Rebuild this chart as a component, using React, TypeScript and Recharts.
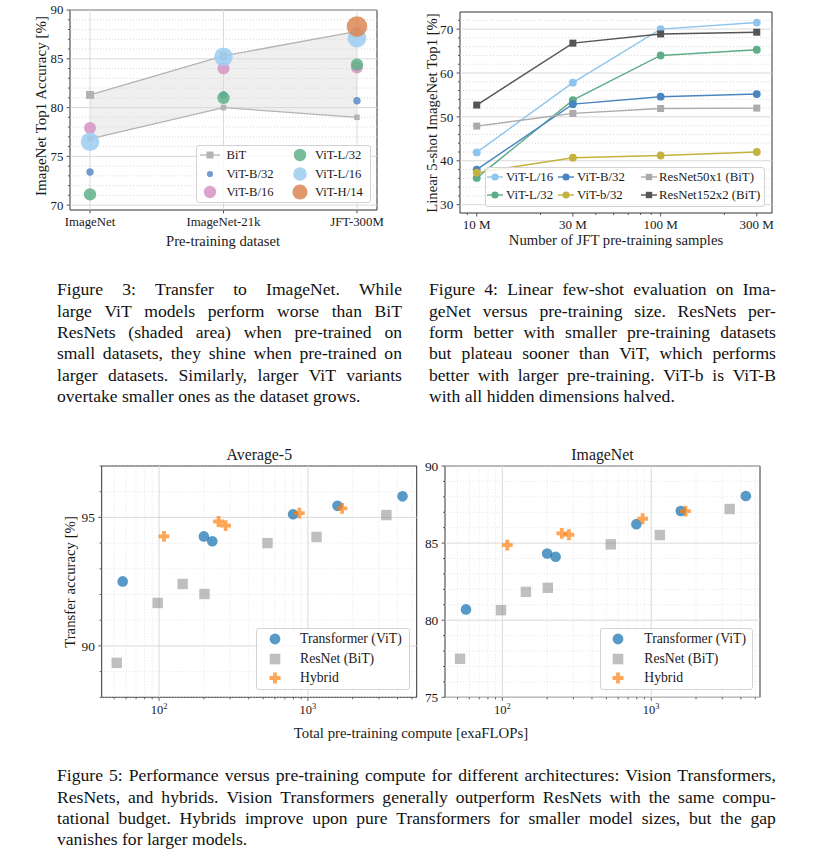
import React from 'react';
import {
  ComposedChart,
  LineChart,
  ScatterChart,
  Line,
  Area,
  Scatter,
  XAxis,
  YAxis,
  ReferenceLine,
  ReferenceArea,
} from 'recharts';

const FONT = '"Liberation Serif", "Times New Roman", Times, serif';
const AXIS = '#333333';
const TEXT = '#1a1a1a';
const GRID = '#d9d9d9';
const MINOR = '#cfcfcf';

// ---------------- Figure 3 data ----------------
const datasets = ['ImageNet', 'ImageNet-21k', 'JFT-300M'];
const bitHigh = [81.3, 85.3, 87.8];
const bitLow = [76.8, 80.0, 79.0];
const vitB32 = [73.4, 81.3, 80.7];
const vitB16 = [77.9, 84.0, 84.1];
const vitL32 = [71.1, 81.0, 84.4];
const vitL16 = [76.5, 85.2, 87.1];
const vitH14: (number | null)[] = [null, null, 88.3];
const fig3MajorY = [70, 75, 80, 85, 90];

// ---------------- Figure 4 data ----------------
const jftSamples = [9, 30, 90, 300];
const jftLabels = ['10 M', '30 M', '100 M', '300 M'];
const fsL16 = [41.9, 57.8, 70.0, 71.5];
const fsL32 = [36.1, 53.8, 64.0, 65.3];
const fsB32 = [38.0, 52.9, 54.6, 55.2];
const fsb32 = [37.3, 40.7, 41.2, 42.0];
const fsR50 = [47.9, 50.8, 51.9, 52.0];
const fsR152 = [52.7, 66.8, 68.9, 69.3];
const fig4MajorY = [30, 40, 50, 60, 70];
const fig4MinorX = [8, 20, 40, 50, 60, 70, 80, 200];

// ---------------- Figure 5 data ----------------
const vitCompute = [57, 200, 228, 795, 1580, 4320];
const vitAvg5 = [92.51, 94.26, 94.07, 95.12, 95.45, 95.82];
const vitImageNet = [80.7, 84.33, 84.11, 86.23, 87.08, 88.05];
const bitCompute = [52, 98, 144, 202, 535, 1143, 3365];
const bitAvg5 = [89.34, 91.67, 92.41, 92.02, 94.0, 94.24, 95.09];
const bitImageNet = [77.5, 80.65, 81.84, 82.1, 84.92, 85.52, 87.21];
const hybCompute = [108, 251, 280, 876, 1697];
const hybAvg5 = [94.26, 94.84, 94.68, 95.17, 95.35];
const hybImageNet = [84.87, 85.63, 85.54, 86.58, 87.08];
const computeMajor = [100, 1000];
const computeMinor = [50, 60, 70, 80, 90, 200, 300, 400, 500, 600, 700, 800, 900, 2000, 3000, 4000, 5000];
const avg5MajorY = [90, 95];
const inMajorY = [75, 80, 85, 90];

// ---------------- Captions ----------------
const cap3 = [
  'Figure 3:  Transfer to ImageNet.   While',
  'large ViT models perform worse than BiT',
  'ResNets (shaded area) when pre-trained on',
  'small datasets, they shine when pre-trained on',
  'larger datasets.  Similarly, larger ViT variants',
  'overtake smaller ones as the dataset grows.',
];
const cap4 = [
  'Figure 4: Linear few-shot evaluation on Ima-',
  'geNet versus pre-training size.  ResNets per-',
  'form better with smaller pre-training datasets',
  'but plateau sooner than ViT, which performs',
  'better with larger pre-training. ViT-b is ViT-B',
  'with all hidden dimensions halved.',
];
const cap5 = [
  'Figure 5: Performance versus pre-training compute for different architectures: Vision Transformers,',
  'ResNets, and hybrids.  Vision Transformers generally outperform ResNets with the same compu-',
  'tational budget.  Hybrids improve upon pure Transformers for smaller model sizes, but the gap',
  'vanishes for larger models.',
];

// ---------------- helpers ----------------
function steps(a: number, b: number, s: number): number[] {
  const out: number[] = [];
  for (let i = 0; a + i * s <= b + 1e-9; i++) out.push(Math.round((a + i * s) * 1000) / 1000);
  return out;
}
const isIn = (arr: number[], v: number) => arr.some((m) => Math.abs(m - Number(v)) < 1e-9);

type TickCfg = { major: number[]; fmt: (v: number) => React.ReactNode; fontSize: number; offset: number };

const xTick = (cfg: TickCfg) => (props: any) => {
  const { x, y, payload } = props;
  const v = Number(payload.value);
  const major = isIn(cfg.major, v);
  return (
    <g>
      <line x1={x} x2={x} y1={y} y2={y + (major ? 3.5 : 2)} stroke={AXIS} strokeWidth={0.8} />
      {major && (
        <text x={x} y={y + cfg.offset} textAnchor="middle" fontFamily={FONT} fontSize={cfg.fontSize} fill={TEXT}>
          {cfg.fmt(v)}
        </text>
      )}
    </g>
  );
};

const yTick = (cfg: TickCfg) => (props: any) => {
  const { x, y, payload } = props;
  const v = Number(payload.value);
  const major = isIn(cfg.major, v);
  return (
    <g>
      <line x1={x} x2={x - (major ? 3.5 : 2)} y1={y} y2={y} stroke={AXIS} strokeWidth={0.8} />
      {major && (
        <text x={x - cfg.offset} y={y} dy="0.35em" textAnchor="end" fontFamily={FONT} fontSize={cfg.fontSize} fill={TEXT}>
          {cfg.fmt(v)}
        </text>
      )}
    </g>
  );
};

const pow10 = (v: number) => (
  <>
    <tspan>10</tspan>
    <tspan dy={-5} fontSize={8.5}>
      {String(Math.round(Math.log10(v)))}
    </tspan>
  </>
);

const circleDot = (color: string, r: number, opacity = 0.85) => (p: any) => {
  if (p.cy == null || p.cx == null || Number.isNaN(p.cy) || p.value == null)
    return <g key={`n-${p.index}`} />;
  return <circle key={`c-${p.index}`} cx={p.cx} cy={p.cy} r={r} fill={color} fillOpacity={opacity} stroke="none" />;
};
const squareDot = (color: string, s: number, opacity = 1) => (p: any) => {
  if (p.cy == null || p.cx == null || Number.isNaN(p.cy)) return <g key={`n-${p.index}`} />;
  return (
    <rect key={`s-${p.index}`} x={p.cx - s / 2} y={p.cy - s / 2} width={s} height={s} fill={color} fillOpacity={opacity} stroke="none" />
  );
};

const plusPath = (cx: number, cy: number, a: number, t: number) =>
  `M${cx - t},${cy - a}H${cx + t}V${cy - t}H${cx + a}V${cy + t}H${cx + t}V${cy + a}H${cx - t}V${cy + t}H${cx - a}V${cy - t}H${cx - t}Z`;

const Txt = ({ x, y, size, rotate, children }: any) => (
  <div
    style={{
      position: 'absolute',
      left: x,
      top: y,
      transform: `translate(-50%,-50%)${rotate ? ' rotate(-90deg)' : ''}`,
      fontSize: size,
      whiteSpace: 'nowrap',
      lineHeight: 1,
      color: TEXT,
    }}
  >
    {children}
  </div>
);

type LegItem = { x: number; y: number; tx: number; label: string; swatch: React.ReactNode };
const LegendBox = ({ box, items, fontSize }: { box: { x: number; y: number; w: number; h: number }; items: LegItem[]; fontSize: number }) => (
  <>
    <div
      style={{
        position: 'absolute',
        left: box.x,
        top: box.y,
        width: box.w,
        height: box.h,
        background: 'rgba(255,255,255,0.8)',
        border: '1px solid #d3d3d3',
        borderRadius: 3,
        boxSizing: 'border-box',
      }}
    />
    {items.map((it) => (
      <React.Fragment key={it.label}>
        <svg style={{ position: 'absolute', left: it.x - 15, top: it.y - 12, overflow: 'visible' }} width={30} height={24}>
          {it.swatch}
        </svg>
        <div
          style={{
            position: 'absolute',
            left: it.tx,
            top: it.y,
            transform: 'translateY(-50%)',
            fontSize,
            whiteSpace: 'nowrap',
            lineHeight: 1,
            color: TEXT,
          }}
        >
          {it.label}
        </div>
      </React.Fragment>
    ))}
  </>
);

const Caption = ({ lines, x, y, width }: { lines: string[]; x: number; y: number; width: number }) => (
  <div style={{ position: 'absolute', left: x, top: y, width, fontSize: 17.6, lineHeight: '21.3px', color: '#111' }}>
    {lines.map((ln, i) =>
      i === lines.length - 1 ? (
        <div key={i} style={{ height: 21.3, whiteSpace: 'nowrap' }}>
          {ln}
        </div>
      ) : (
        <div key={i} style={{ display: 'flex', justifyContent: 'space-between', width, height: 21.3, whiteSpace: 'nowrap' }}>
          {ln.split(/\s+/).map((w, j) => (
            <span key={j}>{w}</span>
          ))}
        </div>
      )
    )}
  </div>
);

const axisBase = { axisLine: false, tickLine: false, tickSize: 0, tickMargin: 0, interval: 0 as const, allowDataOverflow: true };

// ---------------- Figure 3 ----------------
const fig3Data = datasets.map((name, i) => ({
  x: i,
  name,
  bitHigh: bitHigh[i],
  bitLow: bitLow[i],
  bitRange: [bitLow[i], bitHigh[i]],
  b32: vitB32[i],
  b16: vitB16[i],
  l32: vitL32[i],
  l16: vitL16[i],
  h14: vitH14[i],
}));
const fig3Vit = [
  { key: 'b32', label: 'ViT-B/32', color: '#5b8cc4', r: 3.7, lr: 3.1 },
  { key: 'b16', label: 'ViT-B/16', color: '#d694c4', r: 6, lr: 6.2 },
  { key: 'l32', label: 'ViT-L/32', color: '#62b08b', r: 6.2, lr: 6.2 },
  { key: 'l16', label: 'ViT-L/16', color: '#9ccdf1', r: 9.3, lr: 6.8 },
  { key: 'h14', label: 'ViT-H/14', color: '#dc8652', r: 10.3, lr: 7.6 },
];
const BIT_COLOR = '#b3b3b3';

function Figure3() {
  const yAll = steps(70, 90, 1);
  const yDomain: [number, number] = [69.5, 90];
  const xDomain: [number, number] = [-0.15, 2.15];
  return (
    <div style={{ position: 'absolute', left: 0, top: 0 }}>
      <ComposedChart width={400} height={260} data={fig3Data} margin={{ top: 10, right: 23, bottom: 10, left: 10 }}>
        <XAxis
          type="number"
          dataKey="x"
          domain={xDomain}
          ticks={[0, 1, 2]}
          height={40}
          {...axisBase}
          tick={xTick({ major: [0, 1, 2], fmt: (v) => datasets[v], fontSize: 12.8, offset: 16 })}
        />
        <YAxis
          type="number"
          domain={yDomain}
          ticks={yAll}
          width={60}
          {...axisBase}
          tick={yTick({ major: fig3MajorY, fmt: (v) => v, fontSize: 12.8, offset: 6.7 })}
        />
        {yAll.map((v) => (
          <ReferenceLine
            key={`gy${v}`}
            y={v}
            stroke={isIn(fig3MajorY, v) ? GRID : MINOR}
            strokeWidth={isIn(fig3MajorY, v) ? 1 : 0.8}
            strokeDasharray={isIn(fig3MajorY, v) ? undefined : '1 2'}
          />
        ))}
        {[0, 1, 2].map((v) => (
          <ReferenceLine key={`gx${v}`} x={v} stroke={GRID} strokeWidth={1} />
        ))}
        <Area
          type="linear"
          dataKey="bitRange"
          stroke="none"
          fill="#d8d8d8"
          fillOpacity={0.4}
          isAnimationActive={false}
          activeDot={false}
        />
        <Line
          type="linear"
          dataKey="bitHigh"
          stroke={BIT_COLOR}
          strokeWidth={1.3}
          dot={squareDot(BIT_COLOR, 8)}
          activeDot={false}
          isAnimationActive={false}
        />
        <Line
          type="linear"
          dataKey="bitLow"
          stroke={BIT_COLOR}
          strokeWidth={1.3}
          dot={squareDot(BIT_COLOR, 5.5)}
          activeDot={false}
          isAnimationActive={false}
        />
        {fig3Vit.map((s) => (
          <Line
            key={s.key}
            type="linear"
            dataKey={s.key}
            stroke="none"
            dot={circleDot(s.color, s.r, 0.85)}
            activeDot={false}
            isAnimationActive={false}
          />
        ))}
        <ReferenceArea x1={xDomain[0]} x2={xDomain[1]} y1={yDomain[0]} y2={yDomain[1]} fill="none" stroke={AXIS} strokeWidth={1} ifOverflow="visible" />
      </ComposedChart>
      <Txt x={41} y={106} size={15} rotate>
        ImageNet Top1 Accuracy [%]
      </Txt>
      <Txt x={223} y={241} size={14.6}>
        Pre-training dataset
      </Txt>
      <LegendBox
        box={{ x: 196, y: 145, w: 175, h: 58 }}
        fontSize={12.6}
        items={[
          {
            x: 210,
            y: 155,
            tx: 226.5,
            label: 'BiT',
            swatch: (
              <g>
                <line x1={5} x2={25} y1={12} y2={12} stroke={BIT_COLOR} strokeWidth={1.3} />
                <rect x={11.5} y={8.5} width={7} height={7} fill={BIT_COLOR} />
              </g>
            ),
          },
          ...fig3Vit.map((s, i) => ({
            x: i < 2 ? 210 : 300,
            y: [155, 174, 191.7][(i + 1) % 3],
            tx: i < 2 ? 226.5 : 315,
            label: s.label,
            swatch: <circle cx={15} cy={12} r={s.lr} fill={s.color} fillOpacity={0.85} />,
          })),
        ]}
      />
    </div>
  );
}

// ---------------- Figure 4 ----------------
const fig4Data = jftSamples.map((x, i) => ({
  x,
  l16: fsL16[i],
  l32: fsL32[i],
  b32: fsB32[i],
  sb32: fsb32[i],
  r50: fsR50[i],
  r152: fsR152[i],
}));
const fig4Series = [
  { key: 'l16', label: 'ViT-L/16', color: '#8ec5ed', sq: false },
  { key: 'l32', label: 'ViT-L/32', color: '#5dad89', sq: false },
  { key: 'b32', label: 'ViT-B/32', color: '#4a85c0', sq: false },
  { key: 'sb32', label: 'ViT-b/32', color: '#c4b23e', sq: false },
  { key: 'r50', label: 'ResNet50x1 (BiT)', color: '#ababab', sq: true },
  { key: 'r152', label: 'ResNet152x2 (BiT)', color: '#555555', sq: true },
];

function Figure4() {
  const yAll = steps(30, 72, 2);
  const xAll = [...jftSamples, ...fig4MinorX].sort((a, b) => a - b);
  const xDomain: [number, number] = [7.3, 363];
  const yDomain: [number, number] = [28.1, 73.9];
  return (
    <div style={{ position: 'absolute', left: 400, top: 0 }}>
      <LineChart width={416} height={260} data={fig4Data} margin={{ top: 12, right: 44, bottom: 10, left: 10 }}>
        <XAxis
          type="number"
          dataKey="x"
          scale="log"
          domain={xDomain}
          ticks={xAll}
          height={37}
          {...axisBase}
          tick={xTick({ major: jftSamples, fmt: (v) => jftLabels[jftSamples.indexOf(v)], fontSize: 13, offset: 15.5 })}
        />
        <YAxis
          type="number"
          domain={yDomain}
          ticks={yAll}
          width={50}
          {...axisBase}
          tick={yTick({ major: fig4MajorY, fmt: (v) => v, fontSize: 13.2, offset: 6.7 })}
        />
        {yAll.map((v) => (
          <ReferenceLine
            key={`gy${v}`}
            y={v}
            stroke={isIn(fig4MajorY, v) ? GRID : MINOR}
            strokeWidth={isIn(fig4MajorY, v) ? 1 : 0.8}
            strokeDasharray={isIn(fig4MajorY, v) ? undefined : '1 2'}
          />
        ))}
        {fig4Series.map((s) => (
          <Line
            key={s.key}
            type="linear"
            dataKey={s.key}
            stroke={s.color}
            strokeWidth={1.4}
            dot={s.sq ? squareDot(s.color, 7) : circleDot(s.color, 3.9, 1)}
            activeDot={false}
            isAnimationActive={false}
          />
        ))}
        <ReferenceArea x1={xDomain[0]} x2={xDomain[1]} y1={yDomain[0]} y2={yDomain[1]} fill="none" stroke={AXIS} strokeWidth={1} ifOverflow="visible" />
      </LineChart>
      <Txt x={31.5} y={113} size={14.7} rotate>
        Linear 5-shot ImageNet Top1 [%]
      </Txt>
      <Txt x={216} y={240} size={14.7}>
        Number of JFT pre-training samples
      </Txt>
    </div>
  );
}

function Figure4Legend() {
  const cols = [
    { hx: 495, tx: 506 },
    { hx: 566, tx: 577 },
    { hx: 648.5, tx: 659 },
  ];
  const rows = [176.7, 195];
  return (
    <LegendBox
      box={{ x: 485, y: 167, w: 280, h: 40 }}
      fontSize={12.8}
      items={fig4Series.map((s, i) => ({
        x: cols[Math.floor(i / 2)].hx,
        y: rows[i % 2],
        tx: cols[Math.floor(i / 2)].tx,
        label: s.label,
        swatch: (
          <g>
            <line x1={7} x2={23} y1={12} y2={12} stroke={s.color} strokeWidth={1.4} />
            {s.sq ? (
              <rect x={11.8} y={8.8} width={6.4} height={6.4} fill={s.color} />
            ) : (
              <circle cx={15} cy={12} r={3.6} fill={s.color} />
            )}
          </g>
        ),
      }))}
    />
  );
}

// ---------------- Figure 5 ----------------
const VIT5 = '#1f77b4';
const BIT5 = '#7f7f7f';
const HYB5 = '#ff7f0e';
const vitShape = (p: any) => <circle cx={p.cx} cy={p.cy} r={5.3} fill={VIT5} fillOpacity={0.75} />;
const bitShape = (p: any) => <rect x={p.cx - 5.2} y={p.cy - 5.2} width={10.4} height={10.4} fill={BIT5} fillOpacity={0.5} />;
const hybShape = (p: any) => <path d={plusPath(p.cx, p.cy, 5.4, 1.9)} fill={HYB5} fillOpacity={0.7} />;

function ComputePanel({
  left,
  width,
  margin,
  yWidth,
  yDomain,
  yMajor,
  vitVals,
  bitVals,
  hybVals,
}: {
  left: number;
  width: number;
  margin: { top: number; right: number; bottom: number; left: number };
  yWidth: number;
  yDomain: [number, number];
  yMajor: number[];
  vitVals: number[];
  bitVals: number[];
  hybVals: number[];
}) {
  const xDomain: [number, number] = [41.2, 5380];
  const xAll = [...computeMajor, ...computeMinor].sort((a, b) => a - b);
  const yAll = steps(yDomain[0], yDomain[1], 1);
  const vit = vitCompute.map((x, i) => ({ x, y: vitVals[i] }));
  const bit = bitCompute.map((x, i) => ({ x, y: bitVals[i] }));
  const hyb = hybCompute.map((x, i) => ({ x, y: hybVals[i] }));
  return (
    <div style={{ position: 'absolute', left, top: 440 }}>
      <ScatterChart width={width} height={320} margin={margin}>
        <XAxis
          type="number"
          dataKey="x"
          scale="log"
          domain={xDomain}
          ticks={xAll}
          height={40}
          {...axisBase}
          tick={xTick({ major: computeMajor, fmt: pow10, fontSize: 12.5, offset: 17 })}
        />
        <YAxis
          type="number"
          dataKey="y"
          domain={yDomain}
          ticks={yAll}
          width={yWidth}
          {...axisBase}
          tick={yTick({ major: yMajor, fmt: (v) => v, fontSize: 13.4, offset: 6.7 })}
        />
        {yAll.map((v) => (
          <ReferenceLine
            key={`gy${v}`}
            y={v}
            stroke={isIn(yMajor, v) ? GRID : '#dedede'}
            strokeWidth={isIn(yMajor, v) ? 1 : 0.8}
            strokeDasharray={isIn(yMajor, v) ? undefined : '1 2'}
          />
        ))}
        {xAll.map((v) => (
          <ReferenceLine
            key={`gx${v}`}
            x={v}
            stroke={isIn(computeMajor, v) ? GRID : '#dedede'}
            strokeWidth={isIn(computeMajor, v) ? 1 : 0.8}
            strokeDasharray={isIn(computeMajor, v) ? undefined : '1 2'}
          />
        ))}
        <Scatter data={vit} shape={vitShape} isAnimationActive={false} />
        <Scatter data={bit} shape={bitShape} isAnimationActive={false} />
        <Scatter data={hyb} shape={hybShape} isAnimationActive={false} />
        <ReferenceArea
          x1={xDomain[0]}
          x2={xDomain[1]}
          y1={yDomain[0]}
          y2={yDomain[1]}
          fill="none"
          stroke={AXIS}
          strokeWidth={1}
          ifOverflow="visible"
        />
      </ScatterChart>
    </div>
  );
}

const fig5Legend = (hx: number, tx: number, x: number): React.ReactNode => (
  <LegendBox
    box={{ x, y: 627.5, w: 153.5, h: 62.5 }}
    fontSize={13.7}
    items={[
      {
        x: hx,
        y: 639,
        tx,
        label: 'Transformer (ViT)',
        swatch: <circle cx={15} cy={12} r={5.4} fill={VIT5} fillOpacity={0.75} />,
      },
      {
        x: hx,
        y: 659,
        tx,
        label: 'ResNet (BiT)',
        swatch: <rect x={9.7} y={6.7} width={10.6} height={10.6} fill={BIT5} fillOpacity={0.5} />,
      },
      {
        x: hx,
        y: 678,
        tx,
        label: 'Hybrid',
        swatch: <path d={plusPath(15, 12, 5.5, 1.9)} fill={HYB5} fillOpacity={0.7} />,
      },
    ]}
  />
);

export default function App() {
  return (
    <div
      style={{
        position: 'absolute',
        left: 0,
        top: 0,
        width: 816,
        height: 856,
        background: '#ffffff',
        fontFamily: FONT,
        color: TEXT,
        overflow: 'hidden',
      }}
    >
      <Figure3 />
      <Figure4 />
      <Figure4Legend />

      <ComputePanel
        left={40}
        width={390}
        margin={{ top: 26, right: 13.3, bottom: 22.7, left: 11.7 }}
        yWidth={50}
        yDomain={[88, 97]}
        yMajor={avg5MajorY}
        vitVals={vitAvg5}
        bitVals={bitAvg5}
        hybVals={hybAvg5}
      />
      <ComputePanel
        left={400}
        width={416}
        margin={{ top: 26, right: 56, bottom: 22.7, left: 15 }}
        yWidth={30}
        yDomain={[75, 90]}
        yMajor={inMajorY}
        vitVals={vitImageNet}
        bitVals={bitImageNet}
        hybVals={hybImageNet}
      />
      {fig5Legend(275, 300, 256)}
      {fig5Legend(618.3, 644.3, 599.5)}
      <Txt x={259.3} y={455} size={15.8}>
        Average-5
      </Txt>
      <Txt x={602.5} y={455} size={15.8}>
        ImageNet
      </Txt>
      <Txt x={69.5} y={582} size={14.8} rotate>
        Transfer accuracy [%]
      </Txt>
      <Txt x={411} y={733} size={14.8}>
        Total pre-training compute [exaFLOPs]
      </Txt>

      <Caption lines={cap3} x={57} y={279.4} width={345} />
      <Caption lines={cap4} x={429} y={279.4} width={347} />
      <Caption lines={cap5} x={57} y={765.4} width={719} />
    </div>
  );
}
